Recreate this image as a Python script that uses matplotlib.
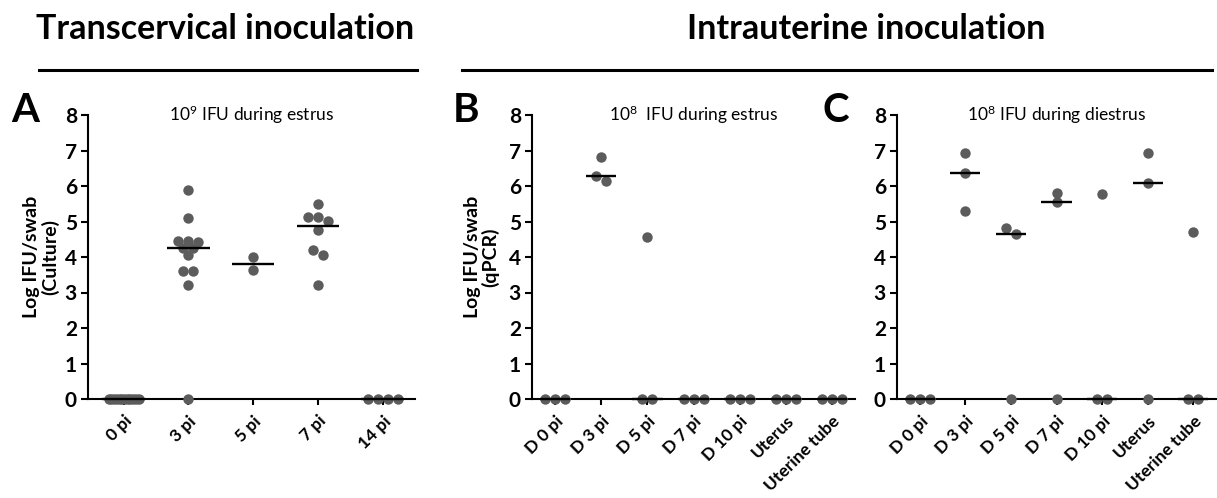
import numpy as np
import matplotlib
matplotlib.use('Agg')
import matplotlib.pyplot as plt
from matplotlib.lines import Line2D
import matplotlib.transforms as mtransforms

plt.rcParams['font.family'] = ['Lato', 'DejaVu Sans']
plt.rcParams['mathtext.fontset'] = 'custom'
plt.rcParams['mathtext.rm'] = 'Lato'
plt.rcParams['mathtext.bf'] = 'Lato:bold'

# ---------------- data ----------------
a_categories = ['0 pi', '3 pi', '5 pi', '7 pi', '14 pi']
a_values = [
    [0, 0, 0, 0, 0, 0, 0, 0, 0, 0, 0, 0],
    [5.9, 5.1, 4.45, 4.45, 4.42, 4.25, 4.25, 4.07, 3.6, 3.6, 3.2, 0],
    [3.62, 4.0],
    [5.5, 5.12, 5.12, 5.02, 4.75, 4.2, 4.05, 3.22],
    [0, 0, 0, 0],
]

bc_categories = ['D 0 pi', 'D 3 pi', 'D 5 pi', 'D 7 pi', 'D 10 pi', 'Uterus', 'Uterine tube']
b_values = [
    [0, 0, 0],
    [6.82, 6.28, 6.15],
    [4.55, 0, 0],
    [0, 0, 0],
    [0, 0, 0],
    [0, 0, 0],
    [0, 0, 0],
]
c_values = [
    [0, 0, 0],
    [6.93, 6.38, 5.3],
    [4.82, 4.66, 0],
    [5.8, 5.56, 0],
    [5.78, 0, 0],
    [6.93, 6.08, 0],
    [4.7, 0, 0],
]

y_ticks = [0, 1, 2, 3, 4, 5, 6, 7, 8]

# ---------------- figure ----------------
W, H = 1217, 498
fig = plt.figure(figsize=(W / 100, H / 100), dpi=100)

def fx(px):
    return px / W

def fy(py):
    return 1 - py / H

ax_bottom = fy(399)
ax_height = fy(115) - fy(399)
axA = fig.add_axes([fx(88), ax_bottom, fx(415) - fx(88), ax_height])
axB = fig.add_axes([fx(532), ax_bottom, fx(855) - fx(532), ax_height])
axC = fig.add_axes([fx(897), ax_bottom, fx(1216) - fx(897), ax_height])

POINT_COLOR = '#5c5c5c'


def swarm_offsets(vals, px_per_x, px_per_y, d=10.0, maxw=30.0, row_tol=6.0):
    """Group near-equal values into rows and center each row (GraphPad style)."""
    order = np.argsort(-np.asarray(vals, dtype=float), kind='stable')
    offs = np.zeros(len(vals))
    rows = []
    for i in order:
        if rows and abs(vals[rows[-1][0]] - vals[i]) * px_per_y < row_tol:
            rows[-1].append(i)
        else:
            rows.append([i])
    for row in rows:
        n = len(row)
        if n == 1:
            continue
        sp = min(d, maxw / (n - 1))
        pos = (np.arange(n) - (n - 1) / 2) * sp / px_per_x
        for k, idx in enumerate(row):
            offs[idx] = pos[k]
    return offs


def draw_panel(ax, categories, values, ylabel=None, ylabel_x=-0.09):
    n = len(categories)
    ax.set_xlim(-0.55 if n == 5 else -0.5, n - 0.5)
    ax.set_ylim(0, 8)
    bbox = ax.get_position()
    px_w = bbox.width * W
    px_h = bbox.height * H
    xl = ax.get_xlim()
    px_per_x = px_w / (xl[1] - xl[0])
    px_per_y = px_h / 8.0
    for i, vals in enumerate(values):
        offs = swarm_offsets(vals, px_per_x, px_per_y)
        ax.plot(i + offs, vals, 'o', ms=7.5, color=POINT_COLOR, mec='none',
                clip_on=False, zorder=3)
        med = np.median(vals)
        ax.plot([i - 0.33, i + 0.33], [med, med], color='black', lw=1.7,
                solid_capstyle='butt', zorder=4, clip_on=False)
    for s in ['top', 'right']:
        ax.spines[s].set_visible(False)
    for s in ['left', 'bottom']:
        ax.spines[s].set_linewidth(1.5)
        ax.spines[s].set_zorder(2.5)
    ax.set_yticks(y_ticks)
    ax.set_yticklabels([str(t) for t in y_ticks], fontsize=15, fontweight='bold')
    ax.set_xticks(range(n))
    ax.set_xticklabels(categories, rotation=45, ha='right', va='top',
                       rotation_mode='anchor', fontsize=12.5, fontweight='bold')
    shift = mtransforms.ScaledTranslation(6 / 100, 0, fig.dpi_scale_trans)
    for lab in ax.get_xticklabels():
        lab.set_transform(lab.get_transform() + shift)
    ax.tick_params(axis='both', direction='out', length=5, width=1.5, pad=3)
    ax.tick_params(axis='x', length=4, pad=6)
    ax.patch.set_alpha(0)
    if ylabel:
        ax.set_ylabel(ylabel, fontsize=14, fontweight='bold', linespacing=1.05)
        ax.yaxis.set_label_coords(ylabel_x, 0.5)


draw_panel(axA, a_categories, a_values, 'Log IFU/swab\n(Culture)', ylabel_x=-0.088)
draw_panel(axB, bc_categories, b_values, 'Log IFU/swab\n(qPCR)', ylabel_x=-0.10)
draw_panel(axC, bc_categories, c_values)

axA.text(0.5, 1.0, '10$\\mathregular{^9}$ IFU during estrus', transform=axA.transAxes,
         ha='center', va='center', fontsize=12.5)
axB.text(0.5, 1.0, '10$\\mathregular{^8}$  IFU during estrus', transform=axB.transAxes,
         ha='center', va='center', fontsize=12.5)
axC.text(0.5, 1.0, '10$\\mathregular{^8}$ IFU during diestrus', transform=axC.transAxes,
         ha='center', va='center', fontsize=12.5)

# panel letters
for letter, px in [('A', 11), ('B', 453), ('C', 822)]:
    fig.text(fx(px), fy(111), letter, fontsize=29, fontweight='bold',
             ha='left', va='center')

# section headers
fig.text(fx(225), fy(29), 'Transcervical inoculation', fontsize=24.5, fontweight='bold',
         ha='center', va='center')
fig.text(fx(866), fy(29), 'Intrauterine inoculation', fontsize=24.5, fontweight='bold',
         ha='center', va='center')
fig.add_artist(Line2D([fx(39), fx(417)], [fy(70), fy(70)], color='black', lw=2.2))
fig.add_artist(Line2D([fx(462), fx(1212)], [fy(70), fy(70)], color='black', lw=2.2))

fig.savefig('out.png', dpi=100)
